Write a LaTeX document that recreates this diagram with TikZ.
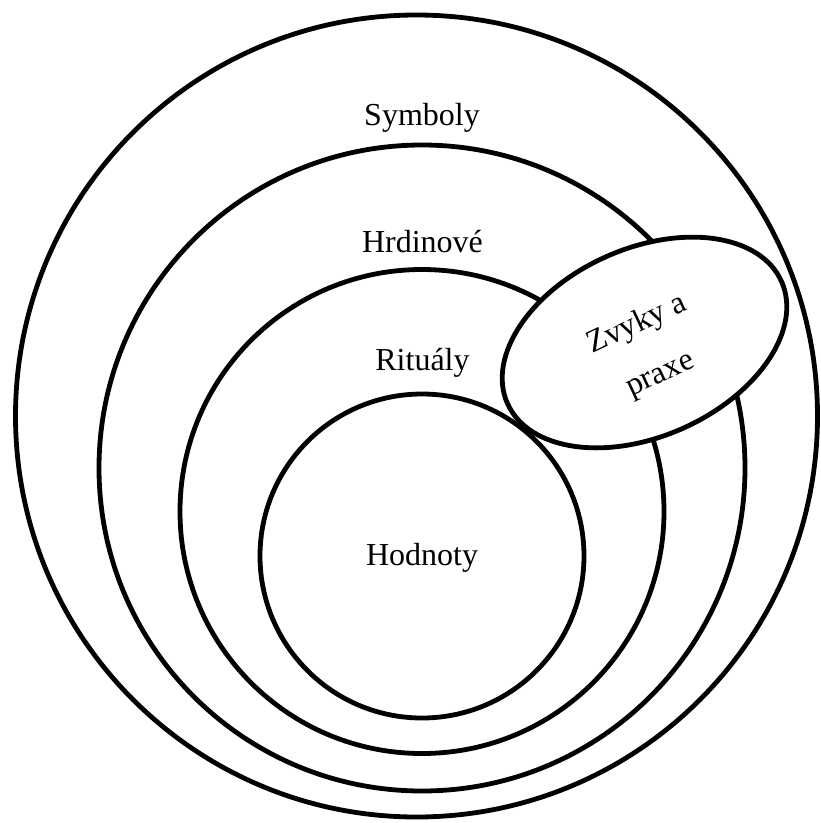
\documentclass[tikz,border=0pt]{standalone}
\usepackage{fontspec}
\setmainfont{Liberation Serif}
\usetikzlibrary{shapes.geometric}
\begin{document}
\begin{tikzpicture}[x=1pt,y=-1pt,
  ring/.style={draw, circle, line width=4.8pt, inner sep=0pt},
  oval/.style={draw, ellipse, line width=4.8pt, fill=white, inner sep=0pt},
  lbl/.style={font=\fontsize{32}{38}\selectfont, anchor=base, inner sep=0pt}]
\useasboundingbox (0,0) rectangle (821,823);
% concentric layers
\node[ring, minimum size=802pt] (symboly) at (416.5,416) {};
\node[ring, minimum size=646pt] (hrdinove) at (422,468) {};
\node[ring, minimum size=484pt] (ritualy) at (422,511.5) {};
\node[ring, minimum size=324pt] (hodnoty) at (422,556) {};
% layer names
\node[lbl] (tsymboly) at (422,125) {Symboly};
\node[lbl] (thrdinove) at (422.5,252) {Hrdinové};
\node[lbl] (tritualy) at (422.5,370) {Rituály};
\node[lbl] (thodnoty) at (422,565) {Hodnoty};
% practices cutting across the outer layers
\node[oval, minimum width=300pt, minimum height=188pt, rotate=24] (zvyky) at (644.5,342.5) {};
\node[font=\fontsize{32}{55}\selectfont, align=center, inner sep=0pt, rotate=25]
  (tzvyky) at (648.8,349.4) {Zvyky a\\praxe};
\end{tikzpicture}
\end{document}
